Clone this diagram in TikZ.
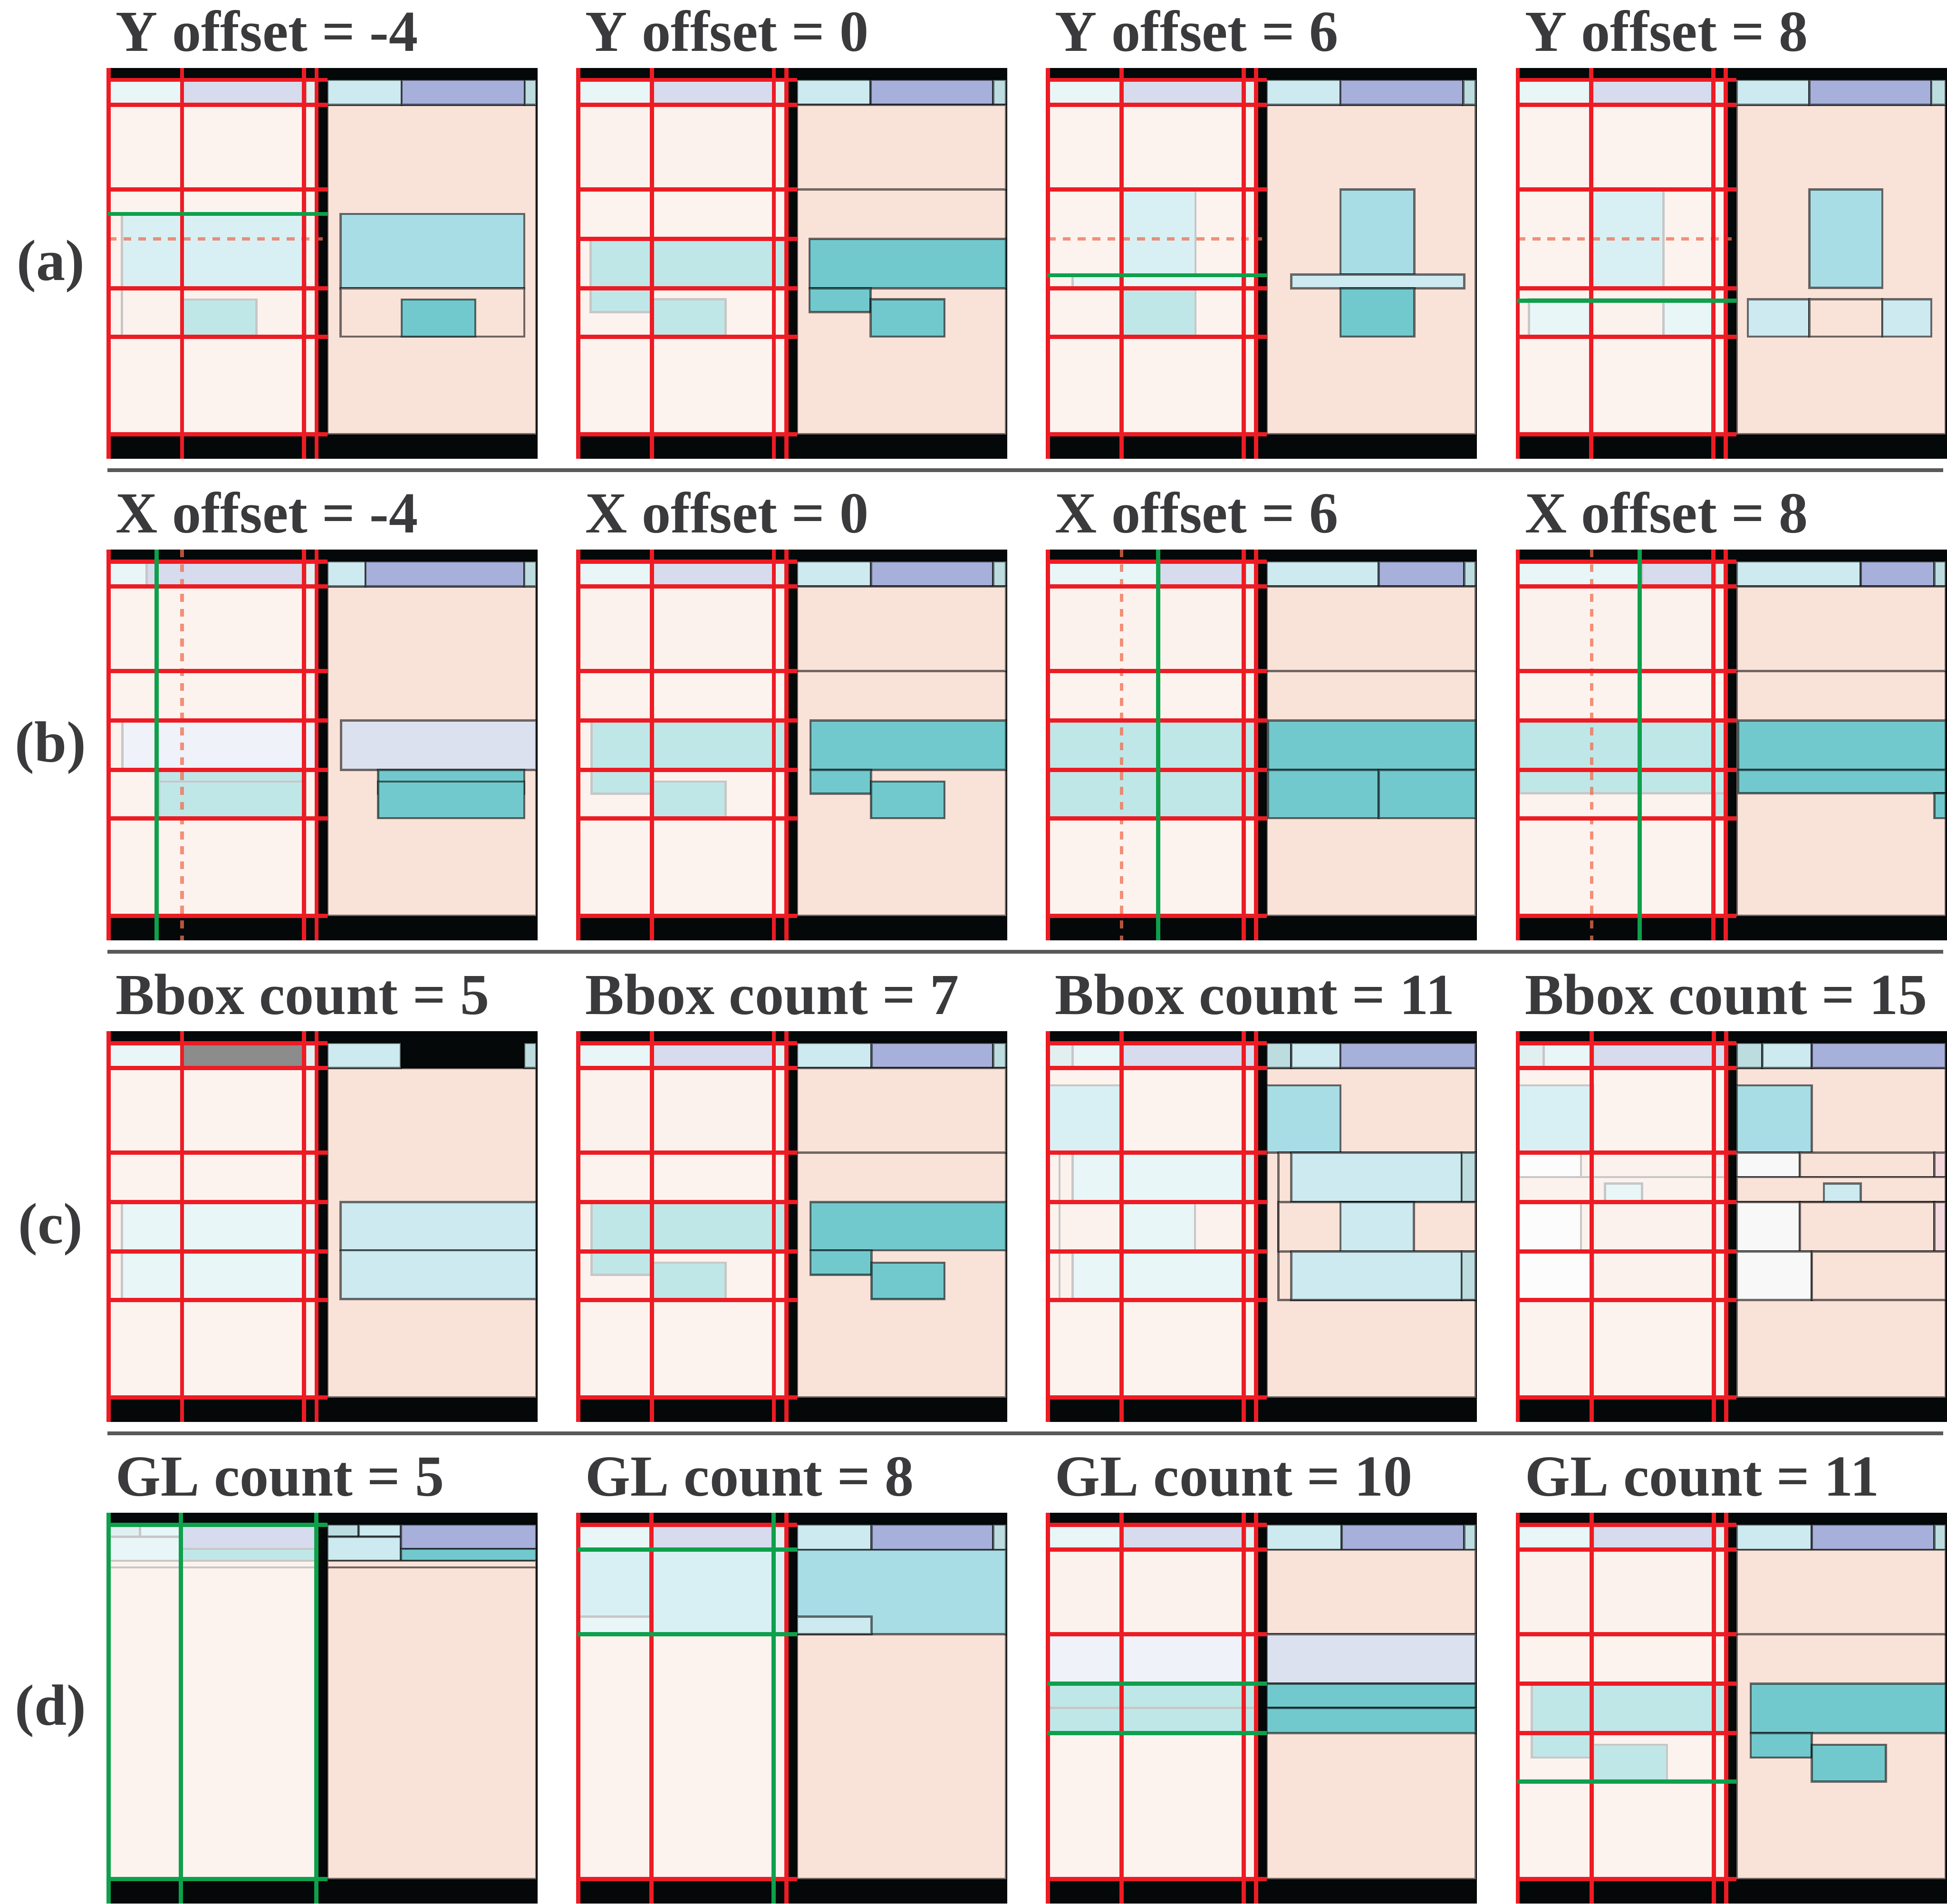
\documentclass[tikz,border=0pt]{standalone}
\usepackage{fontspec}
\setmainfont{Liberation Serif}
\usepackage{xcolor}
\usetikzlibrary{calc}

\definecolor{panelblack}{HTML}{040809}
\definecolor{peach}{HTML}{F9E2D8}
\definecolor{cyanbox}{HTML}{CCEAF0}
\definecolor{lavbox}{HTML}{A7B0DA}
\definecolor{palebox}{HTML}{BCDCE0}
\definecolor{skybox}{HTML}{A9DDE6}
\definecolor{tealbox}{HTML}{72C9CD}
\definecolor{mistbox}{HTML}{DCE1EF}
\definecolor{whitebox}{HTML}{F7F8F7}
\definecolor{pinkbox}{HTML}{F3D9DE}
\definecolor{gridred}{HTML}{ED1C24}
\definecolor{gridgreen}{HTML}{0EA04B}
\definecolor{oldorange}{HTML}{F06E50}
\definecolor{titlegray}{HTML}{3A3A3C}
\definecolor{sepgray}{HTML}{595959}

% a box on the right pane and its faded copy on the left pane
\newcommand{\drawbox}[5]{%
  \filldraw[ghost,fill=#5!45!white] ({#1-50.9},#2) rectangle ({min(#3-50.9,48.6)},#4);
  \filldraw[box,fill=#5] (#1,#2) rectangle (#3,#4);}
% top strip: cyan | lavender | pale
\newcommand{\topstrip}[2]{%
  \drawbox{51.1}{3.1}{#1}{9.5}{cyanbox}%
  \drawbox{#1}{3.1}{#2}{9.5}{lavbox}%
  \drawbox{#2}{3.1}{99.7}{9.5}{palebox}}
% black frame, faded left pane, right page
\newcommand{\panelbase}{%
  \fill[panelblack] (0,0) rectangle (100,100);
  \fill[black!45!white] (0.2,3.1) rectangle (48.6,9.5);
  \fill[peach!42!white] (0.2,9.5) rectangle (48.6,93.8);
  \filldraw[box,fill=peach] (51.1,9.5) rectangle (99.7,93.8);}
\newcommand{\gridh}[2]{\foreach \yy in {#2}{\draw[#1] (0,\yy) -- (51.1,\yy);}}
\newcommand{\gridv}[2]{\foreach \xx in {#2}{\draw[#1] (\xx,0) -- (\xx,100);}}

\begin{document}
\begin{tikzpicture}[x=0.01cm,y=-0.01cm,
  panel/.style 2 args={shift={({86.7+378.3*#1},{54.6+387.8*#2})},x=0.0346cm,y=-0.03145cm},
  box/.style={draw=black,draw opacity=0.55,line width=0.5pt},
  ghost/.style={draw=black!22,line width=0.5pt},
  redline/.style={gridred,line width=0.95pt},
  greenline/.style={gridgreen,line width=0.95pt},
  oldline/.style={draw=oldorange,draw opacity=0.75,line width=0.8pt,dash pattern=on 1.8pt off 1.6pt},
  headtext/.style={anchor=base west,inner sep=0pt,text=titlegray,font=\fontsize{13.3}{16}\selectfont\bfseries},
  lab/.style={inner sep=0pt,text=titlegray,font=\fontsize{13.3}{16}\selectfont\bfseries},
  rowsep/.style={sepgray,line width=0.85pt}]
  \useasboundingbox (0,0) rectangle (1568,1533);

  % titles and row labels
  \foreach \c/\t in {0/-4,1/0,2/6,3/8}{
    \node[headtext] (ty\c) at ({92.5+378.3*\c},41) {Y offset = \t};
    \node[headtext] (tx\c) at ({92.5+378.3*\c},428.8) {X offset = \t};
  }
  \foreach \c/\t in {0/5,1/7,2/11,3/15}
    \node[headtext] (tb\c) at ({92.5+378.3*\c},816.6) {Bbox count = \t};
  \foreach \c/\t in {0/5,1/8,2/10,3/11}
    \node[headtext] (tg\c) at ({92.5+378.3*\c},1204.4) {GL count = \t};
  \foreach \r/\l in {0/a,1/b,2/c,3/d}
    \node[lab] (lab\l) at (40.8,{214.5+387.8*\r}) {(\l)};
  \foreach \yy in {378.7,766.5,1154.3}
    \draw[rowsep] (86.7,\yy) -- (1565,\yy);

  % (a) Y offset
  \begin{scope}[panel={0}{0}]
    \panelbase \topstrip{68.4}{97.0}
    \drawbox{54.2}{37.4}{96.9}{56.4}{skybox}
    \drawbox{54.2}{56.4}{96.9}{68.8}{peach}
    \drawbox{68.4}{59.3}{85.5}{68.8}{tealbox}
    \draw[oldline] (0.2,43.8) -- (50,43.8);
    \gridh{redline}{3.1,9.5,31.1,56.4,68.8,93.8}
    \gridv{redline}{0.2,17.3,45.7,48.6}
    \draw[greenline] (0,37.4) -- (51.1,37.4);
  \end{scope}
  \begin{scope}[panel={1}{0}]
    \panelbase \topstrip{68.2}{96.7}
    \drawbox{51.1}{9.5}{99.7}{31.1}{peach}
    \drawbox{54.0}{43.8}{99.7}{56.4}{tealbox}
    \drawbox{54.0}{56.4}{68.2}{62.5}{tealbox}
    \drawbox{68.2}{59.2}{85.4}{68.8}{tealbox}
    \gridh{redline}{3.1,9.5,31.1,43.8,56.4,68.8,93.8}
    \gridv{redline}{0.2,17.3,45.7,48.6}
  \end{scope}
  \begin{scope}[panel={2}{0}]
    \panelbase \topstrip{68.2}{96.8}
    \drawbox{68.2}{31.1}{85.4}{52.9}{skybox}
    \drawbox{56.8}{52.9}{97.0}{56.4}{cyanbox}
    \drawbox{68.2}{56.4}{85.4}{68.8}{tealbox}
    \draw[oldline] (0.2,43.8) -- (50,43.8);
    \gridh{redline}{3.1,9.5,31.1,56.4,68.8,93.8}
    \gridv{redline}{0.2,17.3,45.7,48.6}
    \draw[greenline] (0,53.1) -- (51.1,53.1);
  \end{scope}
  \begin{scope}[panel={3}{0}]
    \panelbase \topstrip{68.0}{96.4}
    \drawbox{68.0}{31.1}{85.0}{56.3}{skybox}
    \drawbox{53.7}{59.2}{68.0}{68.8}{cyanbox}
    \drawbox{68.0}{59.2}{85.0}{68.8}{peach}
    \drawbox{85.0}{59.2}{96.4}{68.8}{cyanbox}
    \draw[oldline] (0.2,43.8) -- (50,43.8);
    \gridh{redline}{3.1,9.5,31.1,56.4,68.8,93.8}
    \gridv{redline}{0.2,17.3,45.7,48.6}
    \draw[greenline] (0,59.6) -- (51.1,59.6);
  \end{scope}

  % (b) X offset
  \begin{scope}[panel={0}{1}]
    \panelbase \topstrip{60.0}{96.9}
    \drawbox{54.3}{43.8}{99.7}{56.4}{mistbox}
    \drawbox{62.9}{56.4}{96.9}{62.5}{tealbox}
    \drawbox{62.9}{59.4}{96.9}{68.8}{tealbox}
    \draw[oldline] (17.3,0) -- (17.3,100);
    \gridh{redline}{3.1,9.5,31.1,43.8,56.4,68.8,93.8}
    \gridv{redline}{0.2,45.7,48.6}
    \draw[greenline] (11.4,0) -- (11.4,100);
  \end{scope}
  \begin{scope}[panel={1}{1}]
    \panelbase \topstrip{68.3}{96.7}
    \drawbox{51.1}{9.5}{99.7}{31.1}{peach}
    \drawbox{54.2}{43.8}{99.7}{56.4}{tealbox}
    \drawbox{54.2}{56.4}{68.3}{62.5}{tealbox}
    \drawbox{68.3}{59.4}{85.4}{68.8}{tealbox}
    \gridh{redline}{3.1,9.5,31.1,43.8,56.4,68.8,93.8}
    \gridv{redline}{0.2,17.3,45.7,48.6}
  \end{scope}
  \begin{scope}[panel={2}{1}]
    \panelbase \topstrip{77.1}{97.0}
    \drawbox{51.1}{9.5}{99.7}{31.1}{peach}
    \drawbox{51.4}{43.8}{99.7}{56.4}{tealbox}
    \drawbox{51.4}{56.4}{77.1}{68.8}{tealbox}
    \drawbox{77.1}{56.4}{99.7}{68.8}{tealbox}
    \draw[oldline] (17.3,0) -- (17.3,100);
    \gridh{redline}{3.1,9.5,31.1,43.8,56.4,68.8,93.8}
    \gridv{redline}{0.2,45.7,48.6}
    \draw[greenline] (25.8,0) -- (25.8,100);
  \end{scope}
  \begin{scope}[panel={3}{1}]
    \panelbase \topstrip{80.0}{97.1}
    \drawbox{51.1}{9.5}{99.7}{31.1}{peach}
    \drawbox{51.5}{43.8}{99.7}{56.4}{tealbox}
    \drawbox{51.5}{56.4}{99.7}{62.4}{tealbox}
    \drawbox{97.1}{62.4}{99.7}{68.8}{tealbox}
    \draw[oldline] (17.4,0) -- (17.4,100);
    \gridh{redline}{3.1,9.5,31.1,43.8,56.4,68.8,93.8}
    \gridv{redline}{0.2,45.7,48.6}
    \draw[greenline] (28.6,0) -- (28.6,100);
  \end{scope}

  % (c) Bbox count
  \begin{scope}[panel={0}{2}]
    \panelbase
    \drawbox{51.1}{3.1}{68.2}{9.5}{cyanbox}
    \drawbox{96.9}{3.1}{99.7}{9.5}{palebox}
    \drawbox{54.2}{43.8}{99.7}{56.1}{cyanbox}
    \drawbox{54.2}{56.1}{99.7}{68.6}{cyanbox}
    \gridh{redline}{3.1,9.5,31.1,43.8,56.4,68.8,93.8}
    \gridv{redline}{0.2,17.3,45.7,48.6}
  \end{scope}
  \begin{scope}[panel={1}{2}]
    \panelbase \topstrip{68.4}{96.7}
    \drawbox{51.1}{9.5}{99.7}{31.1}{peach}
    \drawbox{54.2}{43.8}{99.7}{56.1}{tealbox}
    \drawbox{54.2}{56.1}{68.4}{62.4}{tealbox}
    \drawbox{68.4}{59.3}{85.4}{68.6}{tealbox}
    \gridh{redline}{3.1,9.5,31.1,43.8,56.4,68.8,93.8}
    \gridv{redline}{0.2,17.3,45.7,48.6}
  \end{scope}
  \begin{scope}[panel={2}{2}]
    \panelbase
    \drawbox{51.1}{3.1}{56.8}{9.5}{palebox}
    \drawbox{56.8}{3.1}{68.2}{9.5}{cyanbox}
    \drawbox{68.2}{3.1}{99.7}{9.5}{lavbox}
    \drawbox{51.1}{13.9}{68.2}{31.1}{skybox}
    \drawbox{53.8}{31.1}{99.7}{68.8}{peach}
    \drawbox{56.8}{31.1}{96.4}{43.8}{cyanbox}
    \drawbox{96.4}{31.1}{99.7}{43.8}{palebox}
    \drawbox{53.8}{43.8}{99.7}{56.4}{peach}
    \drawbox{68.2}{43.8}{85.3}{56.4}{cyanbox}
    \drawbox{56.8}{56.4}{96.4}{68.8}{cyanbox}
    \drawbox{96.4}{56.4}{99.7}{68.8}{palebox}
    \gridh{redline}{3.1,9.5,31.1,43.8,56.4,68.8,93.8}
    \gridv{redline}{0.2,17.3,45.7,48.6}
  \end{scope}
  \begin{scope}[panel={3}{2}]
    \panelbase
    \drawbox{51.1}{3.1}{57.1}{9.5}{palebox}
    \drawbox{57.1}{3.1}{68.6}{9.5}{cyanbox}
    \drawbox{68.6}{3.1}{99.7}{9.5}{lavbox}
    \drawbox{51.1}{13.9}{68.6}{31.1}{skybox}
    \drawbox{51.1}{31.1}{65.8}{37.4}{whitebox}
    \drawbox{65.8}{31.1}{97.1}{37.4}{peach}
    \drawbox{97.1}{31.1}{99.7}{37.4}{pinkbox}
    \drawbox{51.1}{37.4}{99.7}{43.8}{peach}
    \drawbox{71.4}{39.0}{80.0}{43.8}{cyanbox}
    \drawbox{51.1}{43.8}{65.8}{56.4}{whitebox}
    \drawbox{65.8}{43.8}{97.1}{56.4}{peach}
    \drawbox{97.1}{43.8}{99.7}{56.4}{pinkbox}
    \drawbox{51.1}{56.4}{68.6}{68.8}{whitebox}
    \drawbox{68.6}{56.4}{99.7}{68.8}{peach}
    \gridh{redline}{3.1,9.5,31.1,43.8,56.4,68.8,93.8}
    \gridv{redline}{0.2,17.4,45.8,48.7}
  \end{scope}

  % (d) GL count
  \begin{scope}[panel={0}{3}]
    \panelbase
    \drawbox{51.1}{3.1}{58.4}{6.2}{palebox}
    \drawbox{58.4}{3.1}{68.2}{6.2}{cyanbox}
    \drawbox{51.1}{6.2}{68.2}{12.3}{cyanbox}
    \drawbox{68.2}{3.1}{99.7}{9.3}{lavbox}
    \drawbox{68.2}{9.3}{99.7}{12.3}{tealbox}
    \drawbox{51.1}{12.3}{99.7}{14.0}{peach}
    \gridh{greenline}{3.1,93.8}
    \gridv{greenline}{0.2,17.0,48.5}
  \end{scope}
  \begin{scope}[panel={1}{3}]
    \panelbase \topstrip{68.4}{96.7}
    \drawbox{51.1}{9.5}{99.7}{31.1}{skybox}
    \drawbox{51.1}{26.6}{68.4}{31.1}{cyanbox}
    \gridh{redline}{3.1,93.8}
    \gridv{redline}{0.2,17.2,48.6}
    \gridh{greenline}{9.5,31.1}
    \gridv{greenline}{45.6}
  \end{scope}
  \begin{scope}[panel={2}{3}]
    \panelbase \topstrip{68.5}{97.0}
    \drawbox{51.1}{9.5}{99.7}{31.1}{peach}
    \drawbox{51.1}{31.1}{99.7}{43.8}{mistbox}
    \drawbox{51.1}{43.8}{99.7}{50.0}{tealbox}
    \drawbox{51.1}{50.0}{99.7}{56.4}{tealbox}
    \gridh{redline}{3.1,9.5,31.1,93.8}
    \gridv{redline}{0.2,17.3,45.7,48.6}
    \gridh{greenline}{43.8,56.4}
  \end{scope}
  \begin{scope}[panel={3}{3}]
    \panelbase \topstrip{68.6}{97.1}
    \drawbox{51.1}{9.5}{99.7}{31.1}{peach}
    \drawbox{54.4}{43.8}{99.7}{56.4}{tealbox}
    \drawbox{54.4}{56.4}{68.6}{62.7}{tealbox}
    \drawbox{68.6}{59.4}{85.8}{68.8}{tealbox}
    \gridh{redline}{3.1,9.5,31.1,43.8,56.4,93.8}
    \gridv{redline}{0.2,17.4,45.8,48.7}
    \gridh{greenline}{68.8}
  \end{scope}
\end{tikzpicture}
\end{document}
